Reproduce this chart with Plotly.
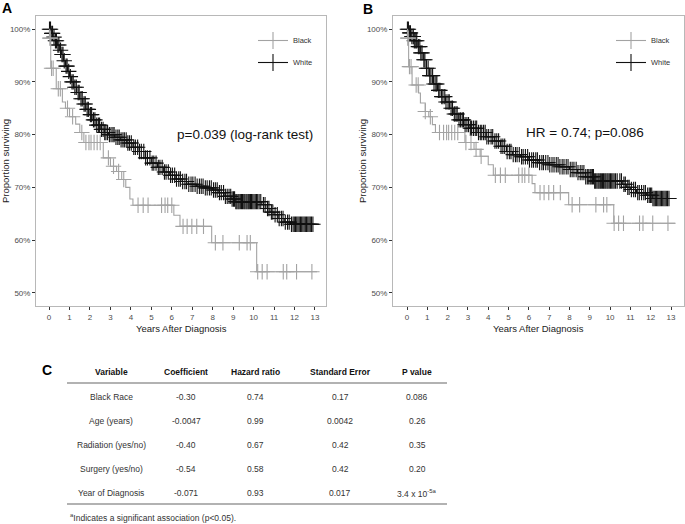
import plotly.graph_objects as go

W, H = 685, 524

# ---- survival step data (years, % surviving) ----
a_white_t = [0, 0.1, 0.2, 0.3, 0.4, 0.5, 0.6, 0.7, 0.8, 0.9, 1.0, 1.1, 1.2, 1.35, 1.5, 1.65, 1.8,
             1.95, 2.1, 2.3, 2.5, 2.7, 2.9, 3.2, 3.5, 3.8, 4.1, 4.4, 4.7, 5.0, 5.3, 5.6, 5.9, 6.2,
             6.5, 6.8, 7.2, 7.6, 8.0, 8.3, 8.6, 8.9, 9.1, 10.4, 10.6, 10.8, 11.0, 11.2, 11.5, 11.8, 13.2]
a_white_s = [100, 99.2, 98.5, 97.8, 97.0, 96.0, 95.2, 94.0, 93.0, 92.0, 91.0, 90.0, 89.0, 88.0,
             86.8, 85.8, 84.8, 83.8, 82.8, 81.8, 81.0, 80.4, 80.0, 79.5, 79.0, 78.4, 77.6, 76.8,
             75.6, 74.6, 73.8, 72.9, 72.3, 71.6, 71.1, 70.6, 70.2, 69.9, 69.5, 69.0, 68.3, 67.8,
             67.3, 66.7, 66.0, 65.3, 64.8, 64.1, 63.4, 63.0, 63.0]

a_black_t = [0, 0.03, 0.08, 0.35, 0.65, 0.8, 1.0, 1.3, 1.5, 1.7, 2.65, 3.0, 3.3, 3.55, 3.75,
             3.95, 4.1, 6.1, 6.4, 7.95, 10.15, 13.1]
a_black_s = [100, 98.3, 92.6, 88.7, 86.2, 85.0, 83.4, 82.0, 80.4, 78.5, 75.6, 74.0, 73.0, 71.5,
             70.0, 67.8, 66.6, 64.7, 62.6, 59.5, 54.0, 54.0]

b_white_t = [0, 0.1, 0.2, 0.35, 0.5, 0.65, 0.8, 0.95, 1.1, 1.3, 1.5, 1.7, 1.9, 2.1, 2.3, 2.55,
             2.8, 3.1, 3.5, 3.9, 4.3, 4.6, 4.9, 5.2, 5.6, 6.0, 6.5, 7.0, 7.5, 8.0, 8.4, 8.8, 9.2,
             10.6, 10.8, 11.0, 11.3, 11.8, 12.1, 13.2]
b_white_s = [100, 99.3, 98.6, 97.8, 96.7, 95.5, 94.2, 92.6, 91.2, 89.6, 88.4, 87.2, 86.2, 85.0,
             83.9, 82.8, 81.9, 81.2, 80.4, 79.6, 78.8, 77.8, 76.8, 76.2, 75.8, 75.2, 74.7, 74.3,
             73.9, 73.4, 72.8, 72.0, 71.2, 70.6, 70.0, 69.6, 69.0, 68.5, 67.9, 67.9]

b_black_t = [0, 0.03, 0.08, 0.25, 0.57, 0.66, 0.9, 1.07, 1.25, 1.4, 2.85, 3.3, 3.6, 4.0, 4.25,
             6.16, 6.3, 7.96, 10.18, 13.2]
b_black_s = [100, 98.3, 92.9, 89.4, 87.9, 86.0, 84.4, 83.4, 81.9, 80.4, 78.5, 77.2, 75.9, 74.3,
             72.3, 70.7, 69.0, 66.7, 63.2, 63.2]

# censoring times (same patients in both panels)
black_cens = [0.04, 0.06, 0.12, 0.2, 0.45, 0.55, 0.9, 1.15, 1.6, 1.8, 1.95, 2.05, 2.2, 2.35, 2.5,
              2.9, 3.15, 3.4, 3.65, 4.35, 4.6, 4.84, 5.5, 5.67, 5.8, 6.0, 6.55, 6.75, 6.98, 7.22,
              7.55, 8.13, 8.5, 9.3, 9.68, 9.84, 10.2, 10.42, 10.66, 11.45, 11.62, 12.1, 12.85]
white_cens = [0.02, 0.07, 0.13, 0.17, 0.24, 0.31, 0.36, 0.43, 0.48, 0.56, 0.63, 0.68, 0.74, 0.83,
              0.88, 0.96, 1.04, 1.12, 1.18, 1.26, 1.33, 1.42, 1.47, 1.56, 1.62, 1.71, 1.77, 1.86,
              1.92, 2.02, 2.08, 2.17, 2.24, 2.33, 2.41, 2.47, 2.56, 2.64, 2.72, 2.78, 2.86, 2.95,
              3.03, 3.12, 3.18, 3.27, 3.36, 3.43, 3.52, 3.61, 3.68, 3.77, 3.85, 3.93, 4.02, 4.14,
              4.22, 4.33, 4.42, 4.51, 4.63, 4.72, 4.81, 4.93, 5.04, 5.12, 5.23, 5.34, 5.42, 5.53,
              5.64, 5.72, 5.83, 5.94, 6.03, 6.14, 6.23, 6.34, 6.42, 6.53, 6.64, 6.72, 6.83, 6.94,
              7.03, 7.14, 7.24, 7.35, 7.44, 7.53, 7.64, 7.73, 7.84, 7.93, 8.04, 8.13, 8.22, 8.33,
              8.42, 8.53, 8.62, 8.71, 8.8, 8.88, 8.95, 9.02, 9.07, 9.13, 9.18, 9.24, 9.29, 9.35,
              9.41, 9.46, 9.52, 9.57, 9.63, 9.68, 9.74, 9.79, 9.85, 9.9, 9.96, 10.02, 10.08, 10.14,
              10.2, 10.27, 10.35, 10.48, 10.56, 10.68, 10.75, 10.87, 10.94, 11.05, 11.16, 11.25,
              11.36, 11.44, 11.55, 11.66, 11.74, 11.85, 11.93, 11.99, 12.05, 12.11, 12.17, 12.23,
              12.29, 12.35, 12.41, 12.47, 12.53, 12.59, 12.65, 12.71, 12.77, 12.83, 12.9]

y_ticks = [50, 60, 70, 80, 90, 100]
y_ticktext = ["50%", "60%", "70%", "80%", "90%", "100%"]
x_ticks = list(range(14))

# ---- Cox model table ----
tbl_header = ["Variable", "Coefficient", "Hazard ratio", "Standard Error", "P value"]
tbl_variable = ["Black Race", "Age (years)", "Radiation (yes/no)", "Surgery (yes/no)", "Year of Diagnosis"]
tbl_coef = ["-0.30", "-0.0047", "-0.40", "-0.54", "-0.071"]
tbl_hr = ["0.74", "0.99", "0.67", "0.58", "0.93"]
tbl_se = ["0.17", "0.0042", "0.42", "0.42", "0.017"]
tbl_p = ["0.086", "0.26", "0.35", "0.20", "3.4 x 10<sup>-5a</sup>"]

GRAY = "#a3a3a3"
BLACK = "#111111"
FONT = "Liberation Sans, Arial, sans-serif"
NARROW = "Liberation Sans Narrow, Arial Narrow, Liberation Sans, Arial, sans-serif"


def surv_at(ts, ss, t):
    val = ss[0]
    for ti, si in zip(ts, ss):
        if ti <= t:
            val = si
    return val


def px(x):
    return x / W


def py(y):
    return 1 - y / H


fig = go.Figure()

panels = [
    ("x", "y", "legend", a_black_t, a_black_s, a_white_t, a_white_s),
    ("x2", "y2", "legend2", b_black_t, b_black_s, b_white_t, b_white_s),
]
for xa, ya, lg, bt, bs, wt, ws in panels:
    for ts, ss, cens, col in [(wt, ws, white_cens, BLACK), (bt, bs, black_cens, GRAY)]:
        fig.add_trace(go.Scatter(x=ts, y=ss, mode="lines", line=dict(color=col, width=1.1, shape="hv"),
                                 xaxis=xa, yaxis=ya, showlegend=False, hoverinfo="skip"))
        fig.add_trace(go.Scatter(x=cens, y=[surv_at(ts, ss, c) for c in cens], mode="markers",
                                 marker=dict(symbol="cross-thin", size=11, line=dict(color=col, width=1.1)),
                                 xaxis=xa, yaxis=ya, showlegend=False, hoverinfo="skip"))
    for name, col in [("Black", GRAY), ("White", BLACK)]:
        fig.add_trace(go.Scatter(x=[None], y=[None], mode="lines+markers", name=name, legend=lg,
                                 legendgroup=name + lg,
                                 line=dict(color=col, width=1.1),
                                 marker=dict(symbol="cross-thin", size=12, line=dict(color=col, width=1.1)),
                                 xaxis=xa, yaxis=ya))

ax_common = dict(showgrid=False, zeroline=False, showline=True, mirror=True, linecolor="#b8b8b8",
                 linewidth=1, ticks="outside", ticklen=3, tickwidth=1, tickcolor="#333333",
                 tickfont=dict(family=FONT, size=8, color="#4d4d4d"))
yd = [py(306), py(16)]
legend_style = dict(yanchor="top", xanchor="left", bgcolor="rgba(0,0,0,0)",
                    font=dict(family=FONT, size=7.5, color="#333333"), tracegroupgap=3, itemwidth=30)
fig.update_layout(
    width=W, height=H, margin=dict(l=0, r=0, t=0, b=0),
    paper_bgcolor="white", plot_bgcolor="white",
    xaxis=dict(domain=[px(36), px(326)], range=[-0.64, 13.54], tickvals=x_ticks, anchor="y", **ax_common),
    yaxis=dict(domain=yd, range=[47.5, 102.5], tickvals=y_ticks, ticktext=y_ticktext, anchor="x", **ax_common),
    xaxis2=dict(domain=[px(393), px(684)], range=[-0.69, 13.64], tickvals=x_ticks, anchor="y2", **ax_common),
    yaxis2=dict(domain=yd, range=[47.5, 102.5], tickvals=y_ticks, ticktext=y_ticktext, anchor="x2", **ax_common),
    legend=dict(x=px(253), y=py(26), **legend_style),
    legend2=dict(x=px(611), y=py(26), **legend_style),
)

ann = []


def note(x, y, text, size, family=FONT, color="#222222", **kw):
    opts = dict(xanchor="center", yanchor="middle")
    opts.update(kw)
    ann.append(dict(x=px(x), y=py(y), xref="paper", yref="paper", text=text, showarrow=False,
                    font=dict(family=family, size=size, color=color), **opts))


for x0 in [181, 538]:
    note(x0, 328, "Years After Diagnosis", 9.5)
for x0 in [6, 363]:
    note(x0, 161, "Proportion surviving", 9.5, textangle=-90)
note(245, 134, "p=0.039 (log-rank test)", 13.5, color="#111111")
note(585, 133, "HR = 0.74; p=0.086", 13.5, color="#111111")
for lab, x0, y0 in [("A", 7, 8), ("B", 368, 9), ("C", 47, 370)]:
    note(x0, y0, "<b>%s</b>" % lab, 14, color="#000000")

col_x = [111, 186, 255, 340, 417]
row_y = [397, 421, 445, 469, 493]
for cx, h in zip(col_x, tbl_header):
    note(cx, 372, "<b>%s</b>" % h, 8.5, family=NARROW, color="#111111")
for i, ry in enumerate(row_y):
    row = [tbl_variable[i], tbl_coef[i], tbl_hr[i], tbl_se[i], tbl_p[i]]
    for cx, txt in zip(col_x, row):
        note(cx, ry, txt, 8.5, family=NARROW, color="#333333")
note(68, 517, "<sup>a</sup>Indicates a significant association (p&lt;0.05).", 8.5,
     family=NARROW, color="#333333", xanchor="left")
fig.update_layout(annotations=ann)

for yy in [383, 504]:
    fig.add_shape(type="line", xref="paper", yref="paper", x0=px(67), x1=px(447), y0=py(yy), y1=py(yy),
                  line=dict(color="#999999", width=1.5))

fig.write_html("out.html", config={"displayModeBar": False},
               post_script="document.body.style.margin='0px';")
